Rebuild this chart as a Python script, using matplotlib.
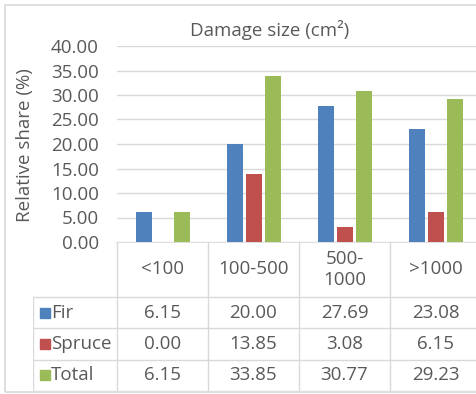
import matplotlib.pyplot as plt
from matplotlib.patches import Rectangle
import numpy as np

# Damage size classes and relative shares (%) per tree species
categories = ['<100', '100-500', '500-\n1000', '>1000']
series_names = ['Fir', 'Spruce', 'Total']
fir = [6.15, 20.00, 27.69, 23.08]
spruce = [0.00, 13.85, 3.08, 6.15]
total = [6.15, 33.85, 30.77, 29.23]
y_ticks = [0, 5, 10, 15, 20, 25, 30, 35, 40]

colors = ['#4F81BD', '#C0504D', '#9BBB59']
text_color = '#595959'
grid_color = '#D9D9D9'

plt.rcParams['font.family'] = ['Open Sans', 'DejaVu Sans']
fs = 13.5

W, H = 476, 394
fig = plt.figure(figsize=(W / 100, H / 100), dpi=100)

# layout in pixels
plot_left, plot_top, plot_bottom = 117, 46, 242
table_left, table_bottom = 33, 391
col_w = 91

# outer chart border
fig.patches.append(Rectangle((5 / W, 2 / H), 1.2, (H - 7) / H, transform=fig.transFigure,
                             fill=False, edgecolor=grid_color, lw=1.2))

ax = fig.add_axes([plot_left / W, (H - plot_bottom) / H, (W - plot_left) / W,
                   (plot_bottom - plot_top) / H])
x_right = -0.5 + (W - plot_left) / col_w
ax.set_xlim(-0.5, x_right)
ax.set_ylim(0, 40)

x = np.arange(len(categories))
bar_w = 16 / col_w
step = 19 / col_w
for i, (vals, c) in enumerate(zip([fir, spruce, total], colors)):
    ax.bar(x + (i - 1) * step, vals, bar_w, color=c, zorder=3, label=series_names[i])

ax.set_yticks(y_ticks)
ax.set_yticklabels([f'{v:.2f}' for v in y_ticks])
ax.tick_params(axis='y', length=0, pad=13, labelsize=fs, labelcolor=text_color)
ax.set_xticks([])
ax.yaxis.grid(True, color=grid_color, lw=1, zorder=0)
for s in ax.spines.values():
    s.set_visible(False)

fig.text(270 / W, 1 - 30 / H, 'Damage size (cm²)', ha='center', va='center',
         fontsize=fs, color=text_color)
fig.text(25 / W, 1 - 145 / H, 'Relative share (%)', ha='center', va='center',
         rotation=90, fontsize=fs, color=text_color)

# data table below the plot
tax = fig.add_axes([table_left / W, (H - table_bottom) / H, (W - table_left) / W,
                    (table_bottom - plot_bottom) / H])
x_left = -0.5 - (plot_left - table_left) / col_w
tax.set_xlim(x_left, x_right)
rows = [0, 1.75, 2.75, 3.75, 4.75]
tax.set_ylim(rows[-1], 0)
tax.axis('off')

lc = grid_color
tax.plot([-0.5, x_right], [0, 0], color=lc, lw=1.2)
for k in range(len(categories) + 1):
    tax.plot([k - 0.5, k - 0.5], [0, rows[-1]], color=lc, lw=1)
tax.plot([x_left, x_left], [rows[1], rows[-1]], color=lc, lw=1)
for r in rows[1:]:
    tax.plot([x_left, x_right], [r, r], color=lc, lw=1)

for i, lab in enumerate(categories):
    tax.text(i, rows[1] / 2, lab, ha='center', va='center', fontsize=fs,
             color=text_color, linespacing=1.25)

for j, (name, vals, c) in enumerate(zip(series_names, [fir, spruce, total], colors)):
    yc = (rows[j + 1] + rows[j + 2]) / 2
    tax.plot(x_left + 0.13, yc, marker='s', markersize=7, color=c, lw=0)
    tax.text(x_left + 0.2, yc, name, ha='left', va='center', fontsize=fs, color=text_color)
    for i, v in enumerate(vals):
        tax.text(i, yc, f'{v:.2f}', ha='center', va='center', fontsize=fs, color=text_color)

fig.savefig('out.png', dpi=100)
